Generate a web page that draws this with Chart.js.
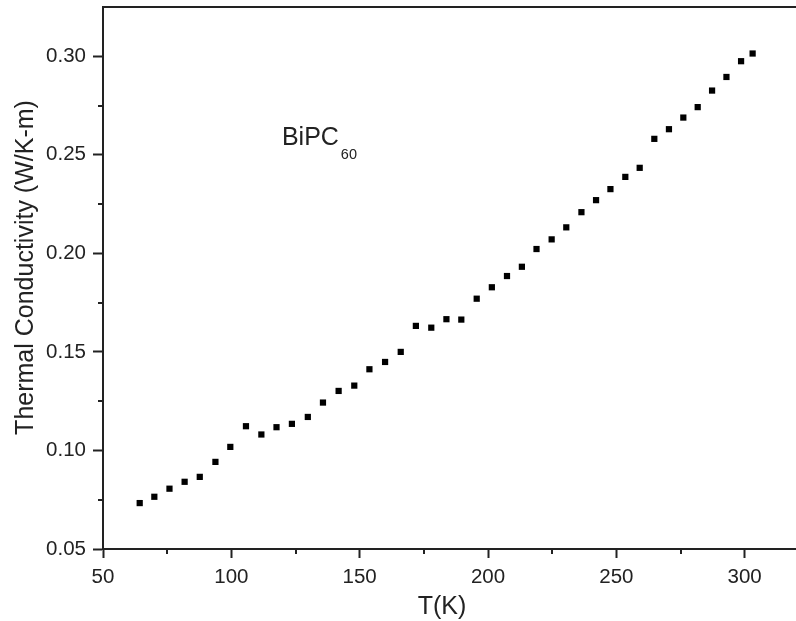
<!DOCTYPE html>
<html>
<head>
<meta charset="utf-8">
<script src="https://cdn.jsdelivr.net/npm/chart.js@4/dist/chart.umd.min.js"></script>
<style>
html,body{margin:0;padding:0;background:#fff;overflow:hidden;}
#wrap{width:796px;height:621px;}
canvas{display:block;}
</style>
</head>
<body>
<div id="wrap"><canvas id="c" width="796" height="621"></canvas></div>
<script>
// Data
const temperatureK = [64.3, 70.0, 75.9, 81.8, 87.7, 93.8, 99.6, 105.7, 111.7, 117.6, 123.6, 129.8, 135.7, 141.8, 147.9, 153.8, 159.9, 166.0, 171.9, 177.9, 183.8, 189.6, 195.6, 201.5, 207.4, 213.2, 218.9, 224.8, 230.5, 236.4, 242.1, 247.7, 253.5, 259.1, 264.8, 270.5, 276.1, 281.7, 287.3, 292.9, 298.6, 303.1];
const conductivity = [0.0733, 0.0765, 0.0806, 0.0841, 0.0866, 0.0942, 0.1018, 0.1123, 0.1081, 0.1118, 0.1135, 0.1170, 0.1243, 0.1302, 0.1329, 0.1412, 0.1449, 0.1500, 0.1632, 0.1623, 0.1666, 0.1664, 0.1770, 0.1828, 0.1885, 0.1932, 0.2022, 0.2071, 0.2132, 0.2209, 0.2270, 0.2326, 0.2388, 0.2434, 0.2581, 0.2630, 0.2689, 0.2742, 0.2826, 0.2895, 0.2975, 0.3014];
const xMajorTicks = [50, 100, 150, 200, 250, 300];
const xMinorTicks = [75, 125, 175, 225, 275];
const yMajorTicks = [0.05, 0.10, 0.15, 0.20, 0.25, 0.30];
const yMinorTicks = [0.075, 0.125, 0.175, 0.225, 0.275];
const xTitle = 'T(K)';
const yTitle = 'Thermal Conductivity (W/K-m)';
const sampleName = 'BiPC';
const sampleSub = '60';

const FONT = '"Liberation Sans", Arial, Helvetica, sans-serif';
const INK = '#222222';

const points = temperatureK.map((t, i) => ({x: t, y: conductivity[i]}));

const extrasPlugin = {
  id: 'extras',
  afterDraw(chart) {
    const ctx = chart.ctx;
    const xs = chart.scales.x, ys = chart.scales.y;
    const ca = chart.chartArea;
    ctx.save();
    // minor ticks
    ctx.strokeStyle = INK;
    ctx.lineWidth = 2;
    ctx.beginPath();
    xMinorTicks.forEach(v => {
      const px = Math.round(xs.getPixelForValue(v));
      ctx.moveTo(px, ca.bottom);
      ctx.lineTo(px, ca.bottom + 5);
    });
    yMinorTicks.forEach(v => {
      const py = Math.round(ys.getPixelForValue(v));
      ctx.moveTo(ca.left, py);
      ctx.lineTo(ca.left - 5, py);
    });
    ctx.stroke();
    // axis titles
    ctx.fillStyle = INK;
    ctx.font = '25px ' + FONT;
    ctx.textAlign = 'center';
    ctx.textBaseline = 'alphabetic';
    ctx.fillText(xTitle, (ca.left + ca.right) / 2 - 7.5, chart.height - 7);
    ctx.save();
    ctx.translate(33, (ca.top + ca.bottom) / 2 - 10.5);
    ctx.rotate(-Math.PI / 2);
    ctx.fillText(yTitle, 0, 0);
    ctx.restore();
    // sample label with subscript
    const lx = xs.getPixelForValue(119.7);
    const ly = ys.getPixelForValue(0.2549);
    ctx.textAlign = 'left';
    ctx.font = '25px ' + FONT;
    ctx.fillText(sampleName, lx, ly);
    const w = ctx.measureText(sampleName).width;
    ctx.font = '14.5px ' + FONT;
    ctx.fillText(sampleSub, lx + w + 2, ly + 14);
    ctx.restore();
  }
};

function noPad(s) {
  s.paddingLeft = 0; s.paddingRight = 0; s.paddingTop = 0; s.paddingBottom = 0;
}

new Chart(document.getElementById('c'), {
  type: 'scatter',
  data: {
    datasets: [{
      data: points,
      pointStyle: 'rect',
      pointRadius: 4.4,
      pointHoverRadius: 4.4,
      backgroundColor: '#000000',
      borderColor: '#000000',
      borderWidth: 0
    }]
  },
  options: {
    responsive: false,
    animation: false,
    events: [],
    layout: {autoPadding: false, padding: {left: 0, right: 0, top: 0, bottom: 0}},
    plugins: {legend: {display: false}, tooltip: {enabled: false}},
    scales: {
      x: {
        type: 'linear',
        position: 'bottom',
        min: 50,
        max: 320,
        afterBuildTicks: s => { s.ticks = xMajorTicks.map(v => ({value: v})); },
        afterFit: s => { s.height = 72; noPad(s); },
        border: {display: true, color: INK, width: 2},
        grid: {display: true, drawOnChartArea: false, drawTicks: true, tickLength: 9, tickColor: INK, tickWidth: 2},
        ticks: {color: INK, font: {family: FONT, size: 20.5}, padding: 7, maxRotation: 0, callback: v => String(v)}
      },
      xTop: {
        type: 'linear',
        position: 'top',
        min: 50,
        max: 320,
        afterFit: s => { s.height = 7; noPad(s); },
        border: {display: true, color: INK, width: 2},
        grid: {display: false, drawTicks: false},
        ticks: {display: false}
      },
      y: {
        type: 'linear',
        position: 'left',
        min: 0.05,
        max: 0.325,
        afterBuildTicks: s => { s.ticks = yMajorTicks.map(v => ({value: v})); },
        afterFit: s => { s.width = 103; noPad(s); },
        border: {display: true, color: INK, width: 2},
        grid: {display: true, drawOnChartArea: false, drawTicks: true, tickLength: 10, tickColor: INK, tickWidth: 2},
        ticks: {color: INK, font: {family: FONT, size: 20.5}, padding: 7, callback: v => v.toFixed(2)}
      }
    }
  },
  plugins: [extrasPlugin]
});
</script>
</body>
</html>
